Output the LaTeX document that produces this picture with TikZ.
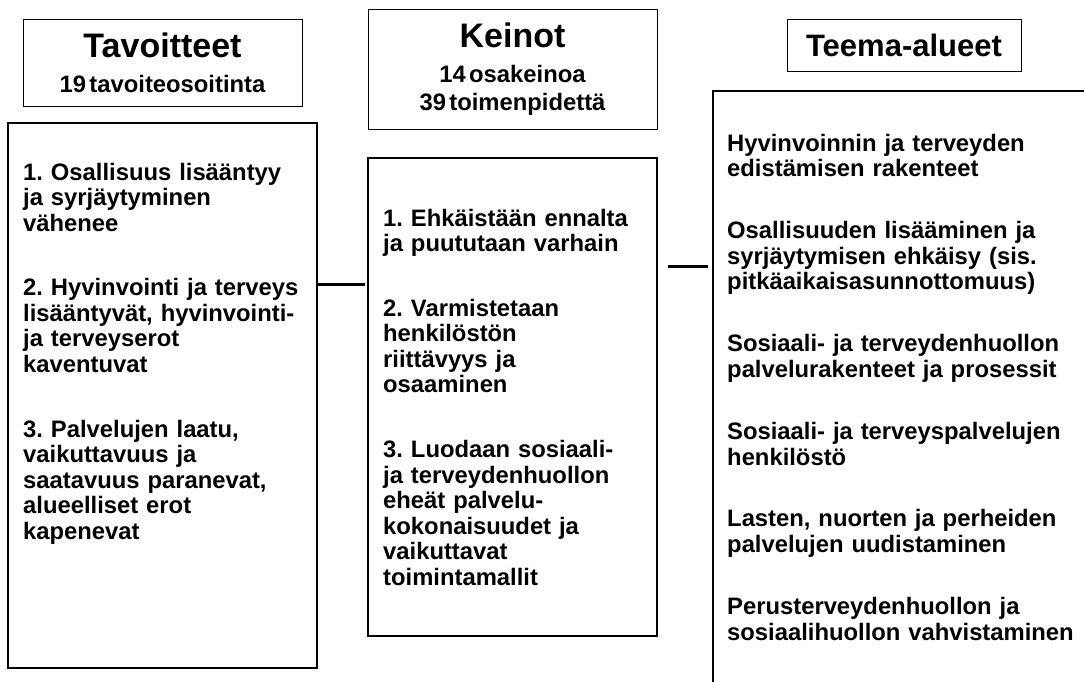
\documentclass[tikz,border=0pt]{standalone}
\usepackage{fontspec}
\setmainfont{Liberation Sans}
\usetikzlibrary{positioning}

\newcommand{\titlesize}{\fontsize{34}{36}\selectfont\bfseries}
\newcommand{\subsize}[1]{\fontsize{23.8}{#1}\selectfont\bfseries}
\newcommand{\bodysize}{\fontsize{23.8}{25.6}\selectfont\bfseries\frenchspacing}

\tikzset{
  headbox/.style={draw, line width=0.8pt, inner sep=0pt},
  bodybox/.style={draw, line width=2pt, inner sep=0pt},
  bodytext/.style={anchor=base west, inner sep=0pt, align=left,
                   text width=370pt, font=\bodysize},
  link/.style={line width=3pt},
}

\begin{document}
\begin{tikzpicture}[x=1pt, y=-1pt]
  \useasboundingbox (0,0) rectangle (1084,682);
  \clip (0,0) rectangle (1084,682);

  % otsikot
  \node[headbox, minimum width=279pt, minimum height=87pt, text width=279pt]
    (goalshead) at (162.5,62.5)
    {\centering\titlesize Tavoitteet\par
     \subsize{35}19 tavoiteosoitinta\par};
  \node[headbox, minimum width=289pt, minimum height=120pt, text width=289pt]
    (meanshead) at (512.5,69)
    {\centering\titlesize Keinot\par
     \subsize{35}14 osakeinoa\par
     \subsize{27.5}39 toimenpidettä\par};
  \node[headbox, minimum width=234pt, minimum height=52pt, text width=234pt]
    (themeshead) at (904,45)
    {\centering\fontsize{31}{33}\selectfont\bfseries Teema-alueet\par};

  % laatikot
  \node[bodybox, minimum width=309pt, minimum height=545pt]
    (goals) at (162.5,395.5) {};
  \node[bodybox, minimum width=289pt, minimum height=478pt]
    (means) at (512.5,397) {};
  \node[bodybox, minimum width=397pt, minimum height=619pt]
    (themes) at (911.5,400.5) {};

  % tekstit
  \node[bodytext] (goalstext) at (23,180) {%
    1. Osallisuus lisääntyy\\
    ja syrjäytyminen\\
    vähenee\\[38.9pt]
    2. Hyvinvointi ja terveys\\
    lisääntyvät, hyvinvointi-\\
    ja terveyserot\\
    kaventuvat\\[38.9pt]
    3. Palvelujen laatu,\\
    vaikuttavuus ja\\
    saatavuus paranevat,\\
    alueelliset erot\\
    kapenevat};
  \node[bodytext] (meanstext) at (383,226) {%
    1. Ehkäistään ennalta\\
    ja puututaan varhain\\[38.9pt]
    2. Varmistetaan\\
    henkilöstön\\
    riittävyys ja\\
    osaaminen\\[38.9pt]
    3. Luodaan sosiaali-\\
    ja terveydenhuollon\\
    eheät palvelu-\\
    kokonaisuudet ja\\
    vaikuttavat\\
    toimintamallit};
  \node[bodytext] (themestext) at (727,151) {%
    Hyvinvoinnin ja terveyden\\
    edistämisen rakenteet\\[36.4pt]
    Osallisuuden lisääminen ja\\
    syrjäytymisen ehkäisy (sis.\\
    pitkäaikaisasunnottomuus)\\[36.4pt]
    Sosiaali- ja terveydenhuollon\\
    palvelurakenteet ja prosessit\\[36.4pt]
    Sosiaali- ja terveyspalvelujen\\
    henkilöstö\\[36.4pt]
    Lasten, nuorten ja perheiden\\
    palvelujen uudistaminen\\[36.4pt]
    Perusterveydenhuollon ja\\
    sosiaalihuollon vahvistaminen};

  % yhdysviivat
  \coordinate (linkA) at (0,284);
  \coordinate (linkB) at (0,266);
  \draw[link, shorten >=2pt] (goals.east |- linkA) -- (means.west |- linkA);
  \draw[link, shorten <=10pt, shorten >=4pt] (means.east |- linkB) -- (themes.west |- linkB);
\end{tikzpicture}
\end{document}
